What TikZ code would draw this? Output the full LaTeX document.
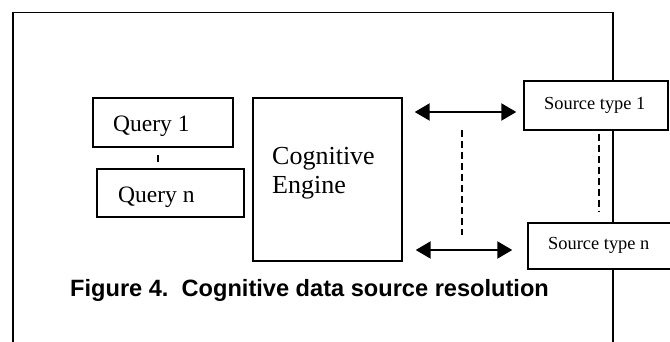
\documentclass[tikz,border=0pt]{standalone}
\usepackage{fontspec}
\setmainfont{Liberation Serif}
\newfontfamily\capfont{Liberation Sans}
\usetikzlibrary{arrows.meta}
\begin{document}
\begin{tikzpicture}[x=1pt,y=1pt,
  box/.style={draw, line width=1.4pt, fill=white, inner sep=0pt},
  txt/.style={inner sep=0pt, anchor=base west},
  biarrow/.style={line width=2.2pt, {Triangle[length=15pt,width=17pt]}-{Triangle[length=15pt,width=17pt]}},
  dsh/.style={line width=1.4pt, dash pattern=on 7pt off 4pt},
  frame/.style={draw, line width=1.3pt}]
\useasboundingbox (0,0) rectangle (670,342);
% open frame
\coordinate (fbl) at (13,0);
\coordinate (ftl) at (13,329.5);
\coordinate (ftr) at (613,329.5);
\coordinate (fbr) at (613,0);
\draw[frame] (fbl) -- (ftl) -- (ftr) -- (fbr);
% boxes
\node[box, minimum width=140pt, minimum height=49pt] (q1) at (163,219.5) {};
\node[box, minimum width=147pt, minimum height=48pt] (qn) at (170.5,149) {};
\node[box, minimum width=149pt, minimum height=163pt] (eng) at (327.5,162.5) {};
\node[box, minimum width=144pt, minimum height=49pt] (s1) at (596,236.5) {};
\node[box, minimum width=143pt, minimum height=46pt] (sn) at (599.5,96) {};
% texts
\node[txt, font=\fontsize{23.5}{28}\selectfont] (q1t) at (113,210) {Query 1};
\node[txt, font=\fontsize{23.5}{28}\selectfont] (qnt) at (118,139) {Query n};
\node[txt, font=\fontsize{26}{29}\selectfont] (engt1) at (272,177) {Cognitive};
\node[txt, font=\fontsize{26}{29}\selectfont] (engt2) at (272,148) {Engine};
\node[txt, font=\fontsize{18.4}{22}\selectfont] (s1t) at (544,232) {Source type 1};
\node[txt, font=\fontsize{18.4}{22}\selectfont] (snt) at (548,92) {Source type n};
\node[txt, font=\capfont\bfseries\fontsize{23.6}{28}\selectfont] (cap) at (70,45) {Figure 4.\ \ Cognitive data source resolution};
% connectors
\draw[biarrow, shorten <=12pt, shorten >=7pt] (eng.east |- 0,230) -- (s1.west |- 0,230);
\draw[biarrow, shorten <=13pt, shorten >=15pt] (eng.east |- 0,92) -- (sn.west |- 0,92);
\coordinate (m1) at (462,212);
\coordinate (m2) at (462,107);
\draw[dsh] (m1) -- (m2);
\draw[dsh, shorten <=3pt, shorten >=11pt] (s1.south -| 599,0) -- (sn.north -| 599,0);
\coordinate (qd1) at (158,187);
\coordinate (qd2) at (158,180);
\draw[line width=1.4pt] (qd1) -- (qd2);
\end{tikzpicture}
\end{document}
